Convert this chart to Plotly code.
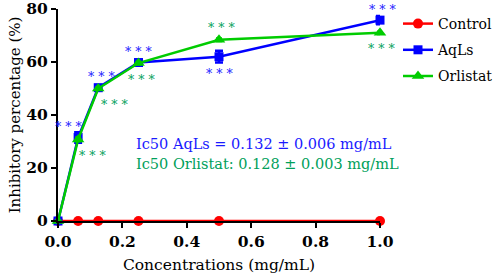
import plotly.graph_objects as go

conc = [0, 0.0625, 0.125, 0.25, 0.5, 1.0]
control = [0, 0, 0, 0, 0, 0]
aqls = [0, 31.5, 50.3, 59.8, 62.0, 75.8]
aqls_err = [0, 2.0, 1.0, 1.0, 2.2, 1.6]
orlistat = [0, 30.8, 50.0, 59.6, 68.4, 71.0]
orlistat_err = [0, 0.8, 0.6, 0.5, 0.6, 0.5]
# significance label placement: +1 above point, -1 below point
aqls_sig = [0, 1, 1, 1, -1, 1]
orl_sig = [0, -1, -1, -1, 1, -1]

RED = "#FF0000"
BLUE = "#0000FF"
GREEN = "#00CC00"
BLUE_TXT = "#1A1AFF"
GREEN_TXT = "#00A05A"
FONT = "DejaVu Serif"
W, H = 498, 280

fig = go.Figure()
fig.add_trace(go.Scatter(x=conc, y=control, name="Control", mode="lines+markers", legendgroup="c",
                         line=dict(color=RED, width=2.5),
                         marker=dict(symbol="circle", size=10, color=RED),
                         cliponaxis=False))
fig.add_trace(go.Scatter(x=conc, y=aqls, name="AqLs", mode="lines+markers", legendgroup="a",
                         line=dict(color=BLUE, width=2.5),
                         marker=dict(symbol="square", size=9, color=BLUE),
                         error_y=dict(type="data", array=aqls_err, color=BLUE, thickness=2.5, width=4),
                         cliponaxis=False))
fig.add_trace(go.Scatter(x=conc, y=orlistat, name="Orlistat", mode="lines+markers", legendgroup="o",
                         line=dict(color=GREEN, width=2.5),
                         marker=dict(symbol="triangle-up", size=11, color=GREEN),
                         error_y=dict(type="data", array=orlistat_err, color=GREEN, thickness=2, width=3),
                         cliponaxis=False))

ann = []
aqls_dx = [0, -10, 3, 0, 0, 2]
orl_dx = [0, 14, 16, 3, 2, 1]
for i, x in enumerate(conc):
    if aqls_sig[i]:
        ann.append(dict(x=x, y=aqls[i], xref="x", yref="y", text="* * *", showarrow=False,
                        xshift=aqls_dx[i], yshift=14 * aqls_sig[i] - 3,
                        font=dict(family=FONT, size=12.5, color=BLUE_TXT)))
    if orl_sig[i]:
        ann.append(dict(x=x, y=orlistat[i], xref="x", yref="y", text="* * *", showarrow=False,
                        xshift=orl_dx[i], yshift=14 * orl_sig[i] - 2,
                        font=dict(family=FONT, size=12.5, color=GREEN_TXT)))

ann.append(dict(x=0.236, y=29.0, xref="x", yref="y", xanchor="left", yanchor="middle",
                text="Ic50 AqLs = 0.132 ± 0.006 mg/mL", showarrow=False,
                font=dict(family=FONT, size=14.5, color=BLUE_TXT)))
ann.append(dict(x=0.236, y=21.7, xref="x", yref="y", xanchor="left", yanchor="middle",
                text="Ic50 Orlistat: 0.128 ± 0.003 mg/mL", showarrow=False,
                font=dict(family=FONT, size=14.5, color=GREEN_TXT)))

fig.update_layout(
    width=W, height=H,
    margin=dict(l=0, r=0, t=0, b=0, autoexpand=False),
    paper_bgcolor="white", plot_bgcolor="white",
    font=dict(family=FONT, color="black"),
    annotations=ann,
    legend=dict(x=398 / W, y=1 - 8 / H, xanchor="left", yanchor="top", traceorder="grouped",
                font=dict(family=FONT, size=14, color="black"),
                bgcolor="rgba(0,0,0,0)", itemwidth=30, tracegroupgap=5),
    xaxis=dict(range=[0, 1.0], tickvals=[0, 0.2, 0.4, 0.6, 0.8, 1.0],
               domain=[58 / W, 380 / W], ticklabeloverflow="allow",
               ticktext=["0.0", "0.2", "0.4", "0.6", "0.8", "1.0"], automargin=False,
               showgrid=False, zeroline=False, showline=True, linecolor="black", linewidth=2,
               ticks="outside", ticklen=5, tickwidth=2, tickcolor="black",
               tickfont=dict(family=FONT, size=15.5, color="black", weight="bold"),
               title=dict(text="Concentrations (mg/mL)", font=dict(family=FONT, size=15.5, color="black"),
                          standoff=10)),
    yaxis=dict(range=[0, 80], tickvals=[0, 20, 40, 60, 80], automargin=False,
               domain=[1 - 221 / H, 1 - 9 / H], ticklabeloverflow="allow",
               showgrid=False, zeroline=False, showline=True, linecolor="black", linewidth=2,
               ticks="outside", ticklen=5, tickwidth=2, tickcolor="black",
               tickfont=dict(family=FONT, size=15.5, color="black", weight="bold"),
               title=dict(text="Inhibitory percentage (%)", font=dict(family=FONT, size=15, color="black"),
                          standoff=2)),
)

fig.write_html("out.html", config={"displayModeBar": False},
               post_script="document.body.style.margin='0px';")
